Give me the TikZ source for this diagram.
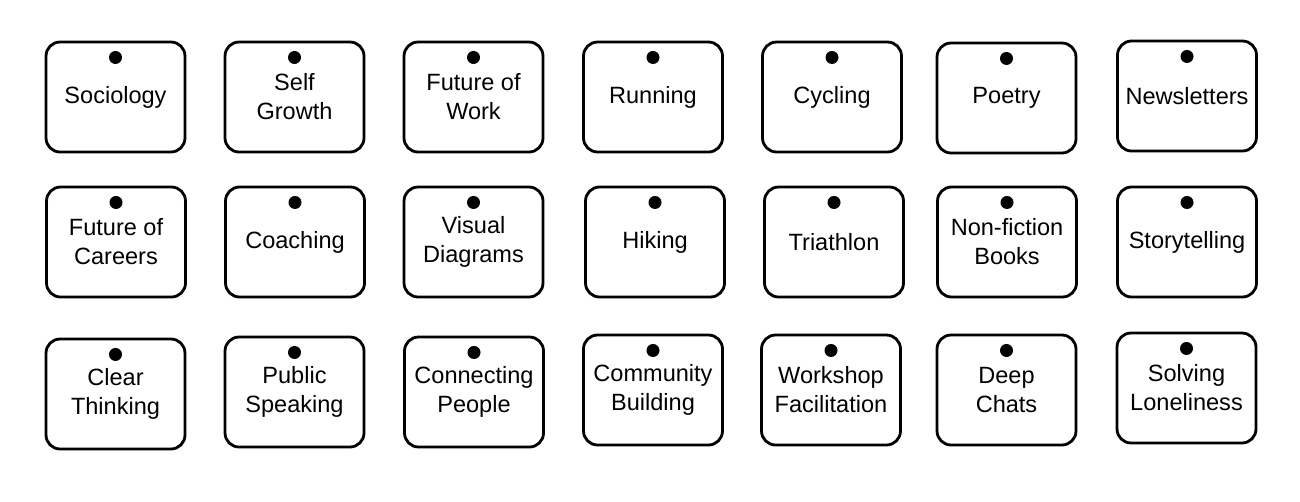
\documentclass[tikz,border=0pt]{standalone}
\usepackage{fontspec}
\setmainfont{Liberation Sans}
\usepackage{tikz}
\usetikzlibrary{positioning}

\begin{document}
\begin{tikzpicture}[
    x=0.02cm, y=-0.02cm,
    topic/.style={draw, line width=1.6pt, rounded corners=0.28cm, minimum width=2.78cm, minimum height=2.2cm,
        align=center, inner sep=0pt, font=\fontsize{13.4}{16.5}\selectfont},
    peg/.style={circle, fill=black, inner sep=0pt, minimum size=0.26cm}
]
    \useasboundingbox (0,0) rectangle (1300,501);
    \foreach \id/\x/\y/\name in {
        a1/115.5/97/Sociology, a2/294.5/97/{Self\\Growth}, a3/473.5/97/{Future of\\Work}, a4/653/97/Running,
        a5/832/97/Cycling, a6/1006.5/98/Poetry, a7/1187/96/Newsletters,
        b1/116/242/{Future of\\Careers}, b2/295/242/Coaching, b3/473.5/242/{Visual\\Diagrams}, b4/655/242/Hiking,
        b5/834/242/Triathlon, b6/1007/242/{Non-fiction\\Books}, b7/1187/242/Storytelling,
        c1/115.5/394/{Clear\\Thinking}, c2/294.5/392/{Public\\Speaking}, c3/474/392/{Connecting\\People},
        c4/653/390/{Community\\Building}, c5/831/390/{Workshop\\Facilitation}, c6/1006.5/390/{Deep\\Chats},
        c7/1186.5/388/{Solving\\Loneliness}} {
        \node[topic] (topic-\id) at (\x, \y) {\name};
        \node[peg, below=0.2cm of topic-\id.north] (peg-\id) {};
    }
\end{tikzpicture}
\end{document}
